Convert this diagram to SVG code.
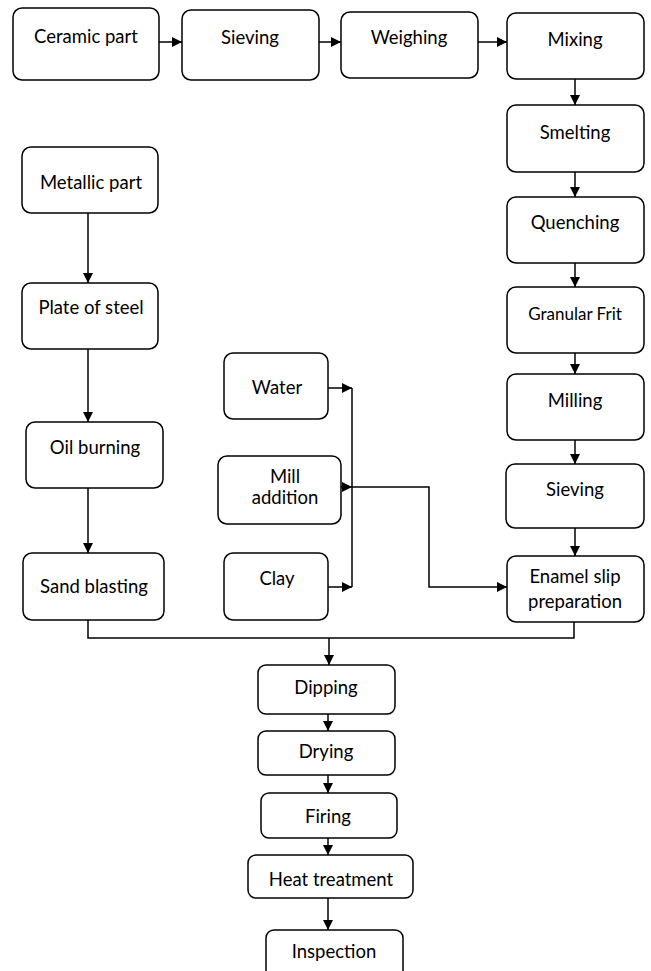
<svg xmlns="http://www.w3.org/2000/svg" width="651" height="971" viewBox="0 0 651 971">
<defs>
<style>
.box{fill:#fff;stroke:#000;stroke-width:1.5}
.t{font-family:Lato,"Open Sans","Liberation Sans",sans-serif;font-size:18.5px;fill:#000;text-anchor:middle}
.c{fill:none;stroke:#000;stroke-width:1.5}
</style>
<marker id="ah" viewBox="0 0 10 10" refX="10" refY="5" markerWidth="10" markerHeight="10" markerUnits="userSpaceOnUse" orient="auto">
<path d="M0,0 L10,5 L0,10 z" fill="#000"/>
</marker>
</defs>
<rect width="651" height="971" fill="#fff"/>
<g id="connectors">
<line class="c" x1="159" y1="42" x2="182" y2="42" marker-end="url(#ah)"/>
<line class="c" x1="319" y1="42" x2="341" y2="42" marker-end="url(#ah)"/>
<line class="c" x1="478" y1="42" x2="507" y2="42" marker-end="url(#ah)"/>
<line class="c" x1="575" y1="79" x2="575" y2="105" marker-end="url(#ah)"/>
<line class="c" x1="575" y1="172" x2="575" y2="197" marker-end="url(#ah)"/>
<line class="c" x1="575" y1="263" x2="575" y2="287" marker-end="url(#ah)"/>
<line class="c" x1="575" y1="353" x2="575" y2="374" marker-end="url(#ah)"/>
<line class="c" x1="575" y1="440" x2="575" y2="464" marker-end="url(#ah)"/>
<line class="c" x1="575" y1="528" x2="575" y2="556" marker-end="url(#ah)"/>
<line class="c" x1="88" y1="213" x2="88" y2="283" marker-end="url(#ah)"/>
<line class="c" x1="88" y1="349" x2="88" y2="422" marker-end="url(#ah)"/>
<line class="c" x1="88" y1="488" x2="88" y2="553" marker-end="url(#ah)"/>
<line class="c" x1="328" y1="388" x2="352" y2="388" marker-end="url(#ah)"/>
<line class="c" x1="328" y1="487" x2="352" y2="487" marker-end="url(#ah)"/>
<line class="c" x1="328" y1="587" x2="352" y2="587" marker-end="url(#ah)"/>
<line class="c" x1="352" y1="388" x2="352" y2="587"/>
<polyline class="c" points="352,487 429,487 429,587 507,587" marker-end="url(#ah)"/>
<polyline class="c" points="88,620 88,638 574,638 574,622"/>
<line class="c" x1="329" y1="638" x2="329" y2="665" marker-end="url(#ah)"/>
<line class="c" x1="328" y1="714" x2="328" y2="731" marker-end="url(#ah)"/>
<line class="c" x1="328" y1="775" x2="328" y2="793" marker-end="url(#ah)"/>
<line class="c" x1="328" y1="838" x2="328" y2="855" marker-end="url(#ah)"/>
<line class="c" x1="328" y1="898" x2="328" y2="930" marker-end="url(#ah)"/>
</g>
<g id="ceramic"><rect class="box" x="13" y="8" width="146" height="72" rx="9"/><text class="t" x="86" y="43">Ceramic part</text></g>
<g id="sieving1"><rect class="box" x="182" y="10" width="137" height="70" rx="9"/><text class="t" x="250" y="44">Sieving</text></g>
<g id="weighing"><rect class="box" x="341" y="12" width="137" height="66" rx="9"/><text class="t" x="409" y="44">Weighing</text></g>
<g id="mixing"><rect class="box" x="507" y="13" width="137" height="66" rx="9"/><text class="t" x="575" y="46">Mixing</text></g>
<g id="smelting"><rect class="box" x="507" y="105" width="137" height="67" rx="9"/><text class="t" x="575" y="139">Smelting</text></g>
<g id="quenching"><rect class="box" x="507" y="197" width="137" height="66" rx="9"/><text class="t" x="575" y="229">Quenching</text></g>
<g id="granular"><rect class="box" x="507" y="287" width="137" height="66" rx="9"/><text class="t" x="575" y="320" style="font-size:17px">Granular Frit</text></g>
<g id="milling"><rect class="box" x="507" y="374" width="137" height="66" rx="9"/><text class="t" x="575" y="407">Milling</text></g>
<g id="sieving2"><rect class="box" x="506" y="464" width="138" height="64" rx="9"/><text class="t" x="575" y="496">Sieving</text></g>
<g id="enamel"><rect class="box" x="507" y="556" width="137" height="66" rx="9"/><text class="t" x="575" y="583">Enamel slip</text><text class="t" x="575" y="608">preparation</text></g>
<g id="metallic"><rect class="box" x="22" y="147" width="136" height="66" rx="9"/><text class="t" x="91" y="189">Metallic part</text></g>
<g id="plate"><rect class="box" x="22" y="283" width="136" height="66" rx="9"/><text class="t" x="91" y="314">Plate of steel</text></g>
<g id="oil"><rect class="box" x="26" y="422" width="137" height="66" rx="9"/><text class="t" x="95" y="454">Oil burning</text></g>
<g id="sand"><rect class="box" x="23" y="553" width="141" height="67" rx="9"/><text class="t" x="94" y="593">Sand blasting</text></g>
<g id="water"><rect class="box" x="224" y="353" width="104" height="66" rx="9"/><text class="t" x="277" y="394">Water</text></g>
<g id="mill"><rect class="box" x="218" y="456" width="123" height="68" rx="9"/><text class="t" x="285" y="483">Mill</text><text class="t" x="285" y="504">addition</text></g>
<g id="clay"><rect class="box" x="224" y="553" width="104" height="67" rx="9"/><text class="t" x="277" y="585">Clay</text></g>
<g id="dipping"><rect class="box" x="258" y="665" width="137" height="49" rx="8"/><text class="t" x="326" y="694">Dipping</text></g>
<g id="drying"><rect class="box" x="258" y="731" width="137" height="44" rx="8"/><text class="t" x="326" y="758">Drying</text></g>
<g id="firing"><rect class="box" x="261" y="793" width="136" height="45" rx="8"/><text class="t" x="328" y="823">Firing</text></g>
<g id="heat"><rect class="box" x="248" y="855" width="165" height="43" rx="8"/><text class="t" x="331" y="886">Heat treatment</text></g>
<g id="inspection"><rect class="box" x="266" y="930" width="137" height="50" rx="8"/><text class="t" x="334" y="958">Inspection</text></g>
</svg>
